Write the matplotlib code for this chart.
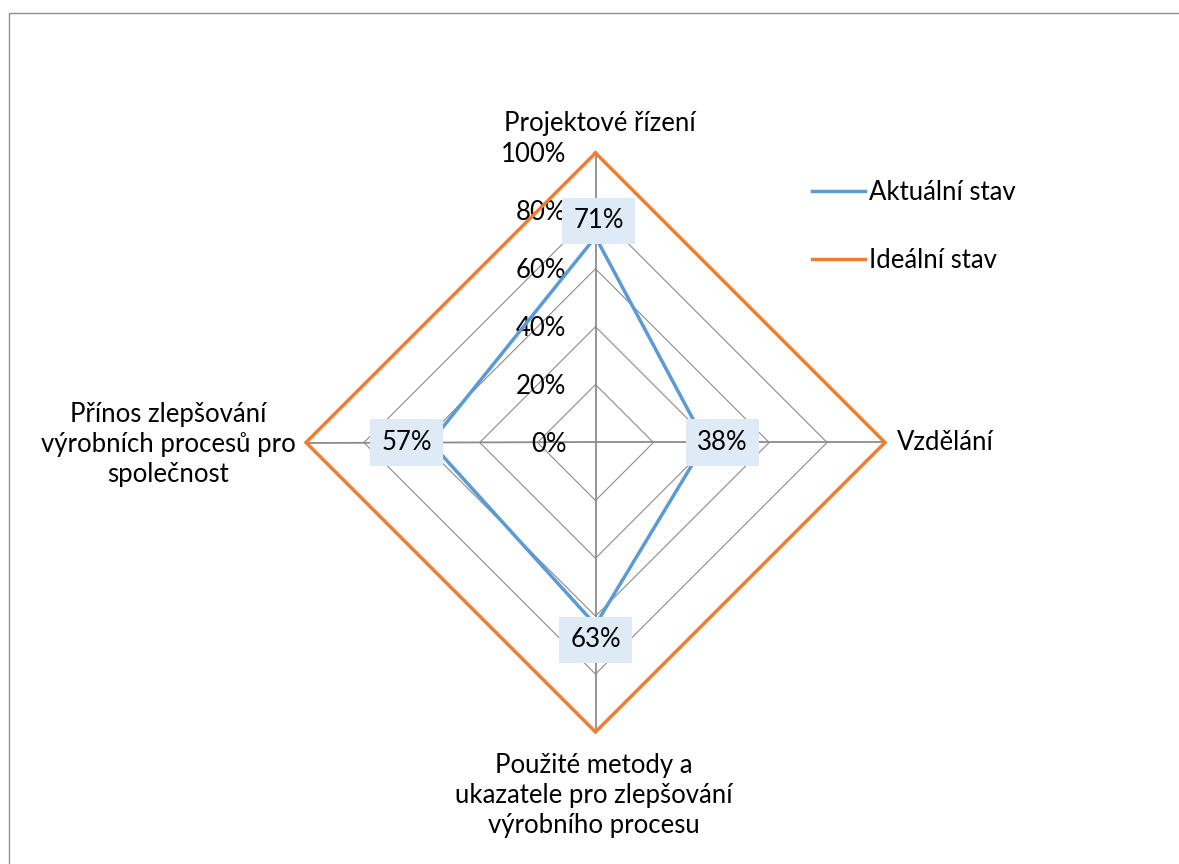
import numpy as np
import matplotlib.pyplot as plt
from matplotlib.patches import Rectangle

plt.rcParams['font.family'] = ['Lato', 'DejaVu Sans']

# data
kategorie = ['Projektové řízení',
             'Vzdělání',
             'Použité metody a\nukazatele pro zlepšování\nvýrobního procesu',
             'Přínos zlepšování\nvýrobních procesů pro\nspolečnost']
aktualni = [0.71, 0.38, 0.63, 0.57]
idealni = [1.0, 1.0, 1.0, 1.0]
urovne = [0.0, 0.2, 0.4, 0.6, 0.8, 1.0]
popisky_os = ['0%', '20%', '40%', '60%', '80%', '100%']
nazvy = ['Aktuální stav', 'Ideální stav']

modra = '#5b9bd5'
oranzova = '#ed7d31'
seda = '#8c8c8c'
fs = 18.5

# geometrie v pixelech (stred grafu, polomer pro 100 %)
W, H = 1179, 864
cx, cy, R = 595.5, 442.5, 289.5

def px(x, y):
    # pixely obrazku -> souradnice dat
    return (x - cx) / R, (cy - y) / R

fig = plt.figure(figsize=(W / 100, H / 100), dpi=100)
ax = fig.add_axes([0, 0, 1, 1])
ax.set_xlim(-cx / R, (W - cx) / R)
ax.set_ylim(-(H - cy) / R, cy / R)
ax.axis('off')

uhly = np.deg2rad(90 - 90 * np.arange(len(kategorie)))
uhly_z = np.append(uhly, uhly[0])

def body(hodnoty):
    h = np.append(hodnoty, hodnoty[0])
    return h * np.cos(uhly_z), h * np.sin(uhly_z)

# mrizka
for u in urovne[1:]:
    x, y = body([u] * len(kategorie))
    ax.plot(x, y, color=seda, lw=0.8, zorder=1)
for a in uhly:
    ax.plot([0, np.cos(a)], [0, np.sin(a)], color=seda, lw=1.3, zorder=1)

# popisky osy
for u, t in zip(urovne, popisky_os):
    ax.annotate(t, (0, u), xytext=(-29, -2), textcoords='offset pixels',
                ha='right', va='center', fontsize=fs, color='black')

# serie
x, y = body(aktualni)
ax.plot(x, y, color=modra, lw=2.5, label=nazvy[0], zorder=3,
        solid_joinstyle='miter')
x, y = body(idealni)
ax.plot(x, y, color=oranzova, lw=2.5, label=nazvy[1], zorder=3,
        solid_joinstyle='miter')

# popisky dat
posuny = [16, 17, 15, 24]
for a, v, p in zip(uhly, aktualni, posuny):
    ax.annotate(f'{v:.0%}', (v * np.cos(a), v * np.sin(a)),
                xytext=(p * np.cos(a) + 3 * (a == uhly[0]), p * np.sin(a)),
                textcoords='offset pixels', ha='center', va='center',
                fontsize=fs, zorder=5,
                bbox=dict(boxstyle='square,pad=0.42', fc='#deebf7', ec='none'))

# nazvy kategorii
ax.text(*px(600, 124), kategorie[0], ha='center', va='center', fontsize=fs)
ax.text(*px(897, 443), kategorie[1], ha='left', va='center', fontsize=fs)
ax.text(*px(594, 795), kategorie[2], ha='center', va='center', fontsize=fs,
        linespacing=1.25)
ax.text(*px(168, 445), kategorie[3], ha='center', va='center', fontsize=fs,
        linespacing=1.25)

# legenda
ax.legend(loc='upper left', bbox_to_anchor=(812 / W, 1 - 179.5 / H),
          bbox_transform=fig.transFigure, frameon=False, fontsize=fs,
          handlelength=2.05, handletextpad=0.15, labelspacing=1.7,
          borderpad=0, borderaxespad=0)

# ramecek
fig.add_artist(Rectangle((8.5 / W, -0.1), 1.2, (H - 13.5) / H + 0.1,
                         transform=fig.transFigure, fill=False,
                         ec='#8f8f8f', lw=1.0))

fig.savefig('out.png', dpi=100)
